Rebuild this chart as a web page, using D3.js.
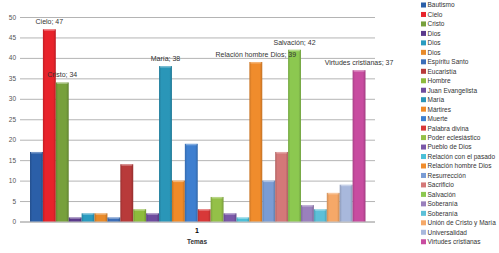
<!DOCTYPE html>
<html>
<head>
<meta charset="utf-8">
<script src="https://cdn.jsdelivr.net/npm/d3@7"></script>
<style>
  body { margin: 0; background: #fff; }
  svg { font-family: "Liberation Sans", Arial, sans-serif; }
</style>
</head>
<body>
<div class="chart"></div>
<script>
var temas = ["Bautismo", "Cielo", "Cristo", "Dios", "Dios", "Dios", "Espíritu Santo",
  "Eucaristía", "Hombre", "Juan Evangelista", "María", "Mártires", "Muerte",
  "Palabra divina", "Poder eclesiástico", "Pueblo de Dios", "Relación con el pasado",
  "Relación hombre Dios", "Resurrección", "Sacrificio", "Salvación", "Soberanía",
  "Soberanía", "Unión de Cristo y María", "Universalidad", "Virtudes cristianas"];
var valores = [17, 47, 34, 1, 2, 2, 1, 14, 3, 2, 38, 10, 19, 3, 6, 2, 1, 39, 10, 17, 42, 4, 3, 7, 9, 37];
var colores = ["#2b5fa8", "#e8232b", "#77a03c", "#5b3a8c", "#2a9cc0", "#e88a2a", "#3c6eb8",
  "#b83a3a", "#8dbb3c", "#6e4c9e", "#2a96b8", "#f08a28", "#3e7fd0", "#d83838", "#94c048",
  "#7a58a8", "#4cc0d8", "#f08c2c", "#7a9cd4", "#d47878", "#8cc850", "#9a80bc", "#5cc0d8",
  "#f5a868", "#a8b8dc", "#c84ca0"];
var yTicks = [0, 5, 10, 15, 20, 25, 30, 35, 40, 45, 50];
var categoria = "1";
var ejeTitulo = "Temas";

var W = 499, H = 253;

/**
 * Scales
 */
var xScale = d3.scaleBand()
               .domain(d3.range(temas.length))
               .range([30, 365.5])
               .padding(0);

var yScale = d3.scaleLinear()
               .domain([0, 50])
               .range([221.5, 17]);

var svg = d3.select(".chart")
            .append("svg")
            .attr("width", W)
            .attr("height", H);

/**
 * Gradients for the bars
 */
var defs = svg.append("defs");
colores.forEach(function(c, i) {
  var g = defs.append("linearGradient")
              .attr("id", "g" + i)
              .attr("x1", 0).attr("x2", 1).attr("y1", 0).attr("y2", 0);
  g.append("stop").attr("offset", "0%").attr("stop-color", d3.color(c).darker(0.5));
  g.append("stop").attr("offset", "18%").attr("stop-color", c);
  g.append("stop").attr("offset", "80%").attr("stop-color", c);
  g.append("stop").attr("offset", "100%").attr("stop-color", d3.color(c).darker(0.6));
});

/**
 * Grid + y axis
 */
var yAxis = d3.axisLeft(yScale)
              .tickValues(yTicks)
              .tickSize(-(375 - 20))
              .tickPadding(4);

var gy = svg.append("g")
            .attr("transform", "translate(20,0)")
            .call(yAxis);
gy.select(".domain").remove();
gy.selectAll(".tick line")
  .attr("stroke", function(d) { return d === 0 ? "#8c8c8c" : "#b4b4b4"; })
  .attr("stroke-width", 1);
gy.selectAll(".tick text")
  .attr("fill", "#555")
  .style("font-size", "6.5px");

/**
 * Bars
 */
svg.append("g")
   .selectAll("rect")
   .data(valores)
   .enter()
   .append("rect")
   .attr("x", function(d, i) { return xScale(i); })
   .attr("y", function(d) { return yScale(d); })
   .attr("width", xScale.bandwidth())
   .attr("height", function(d) { return yScale(0) - yScale(d); })
   .attr("fill", function(d, i) { return "url(#g" + i + ")"; });

// top highlight
svg.append("g")
   .selectAll("rect")
   .data(valores)
   .enter()
   .append("rect")
   .attr("x", function(d, i) { return xScale(i) + 1; })
   .attr("y", function(d) { return yScale(d); })
   .attr("width", xScale.bandwidth() - 2)
   .attr("height", 1.5)
   .attr("fill", "#fff")
   .attr("opacity", 0.35);

/**
 * Data labels for the tallest bars
 */
svg.append("g")
   .selectAll("text")
   .data(valores.map(function(v, i) { return { v: v, i: i }; })
                .filter(function(d) { return d.v >= 30; }))
   .enter()
   .append("text")
   .attr("x", function(d) { return xScale(d.i) + xScale.bandwidth() / 2; })
   .attr("y", function(d) { return yScale(d.v) - 5; })
   .attr("text-anchor", "middle")
   .attr("fill", "#333")
   .style("font-size", "7px")
   .text(function(d) { return temas[d.i] + "; " + d.v; });

/**
 * Category label + axis title
 */
svg.append("text")
   .attr("x", 197)
   .attr("y", 233)
   .attr("text-anchor", "middle")
   .attr("font-weight", "bold")
   .style("font-size", "7px")
   .text(categoria);

svg.append("text")
   .attr("x", 197)
   .attr("y", 244)
   .attr("text-anchor", "middle")
   .attr("font-weight", "bold")
   .attr("fill", "#333")
   .style("font-size", "6.5px")
   .text(ejeTitulo);

/**
 * Legend
 */
var legend = svg.append("g")
                .selectAll("g")
                .data(temas)
                .enter()
                .append("g")
                .attr("transform", function(d, i) {
                  return "translate(421," + (5 + i * 9.47) + ")";
                });

legend.append("rect")
      .attr("x", 0)
      .attr("y", -2.5)
      .attr("width", 5)
      .attr("height", 5)
      .attr("fill", function(d, i) { return colores[i]; });

legend.append("text")
      .attr("x", 6.5)
      .attr("y", 2.4)
      .attr("fill", "#333")
      .style("font-size", "6.5px")
      .text(function(d) { return d; });
</script>
</body>
</html>
